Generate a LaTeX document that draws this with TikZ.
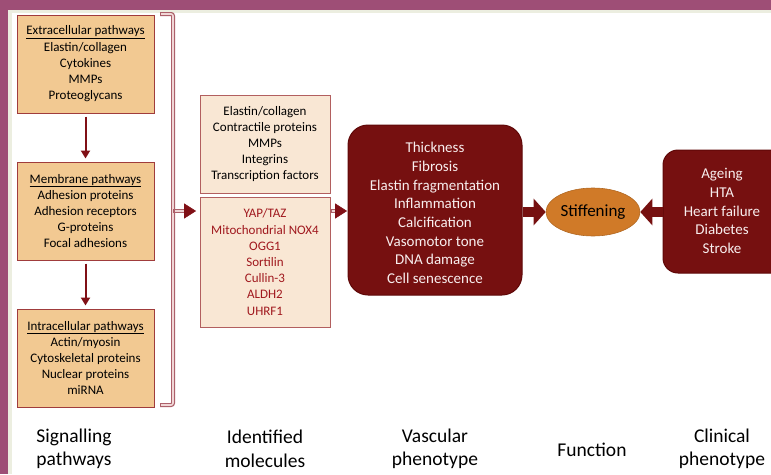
\documentclass[tikz,border=0pt]{standalone}
\usepackage{fontspec}
\setmainfont{Carlito}
\usetikzlibrary{arrows.meta,shapes.geometric,calc}
\definecolor{frame}{RGB}{158,78,118}
\definecolor{strip}{RGB}{236,238,224}
\definecolor{tanfill}{RGB}{242,201,146}
\definecolor{tanline}{RGB}{160,60,60}
\definecolor{molfill}{RGB}{249,231,212}
\definecolor{molline}{RGB}{178,95,95}
\definecolor{redtext}{RGB}{160,24,30}
\definecolor{darkbox}{RGB}{118,16,16}
\definecolor{darkline}{RGB}{95,8,8}
\definecolor{lighttext}{RGB}{248,238,238}
\definecolor{orangefill}{RGB}{208,122,40}
\definecolor{mauve}{RGB}{172,96,106}
\definecolor{pinkin}{RGB}{240,214,214}
\definecolor{arrowred}{RGB}{128,16,22}
\begin{document}
\begin{tikzpicture}[x=1pt,y=-1pt,
  tanbox/.style={draw=tanline, fill=tanfill, line width=1pt, minimum width=137pt, minimum height=98pt, align=center, inner sep=0pt, font=\fontsize{13}{16.2}\selectfont},
  molbox/.style={draw=molline, fill=molfill, line width=1pt, minimum width=130pt, align=center, inner sep=0pt, font=\fontsize{13}{16.2}\selectfont},
  darkbox/.style={draw=darkline, fill=darkbox, line width=1pt, inner sep=0pt},
  darktext/.style={align=center, inner sep=0pt, text=lighttext, font=\fontsize{15}{18.7}\selectfont},
  label/.style={align=center, font=\fontsize{19.5}{23.5}\selectfont},
  thinarrow/.style={draw=arrowred, line width=2pt, -{Triangle[length=8pt,width=9pt]}},
  dblouter/.style={draw=mauve, line width=4pt},
  dblinner/.style={draw=pinkin, line width=1.6pt},
  tiphead/.style={fill=arrowred, draw=arrowred, line width=0.6pt, line join=miter},
  thickarrow/.style={draw=darkbox, line width=10pt, -{Triangle[length=12pt,width=26pt]}}
]
\useasboundingbox (0,0) rectangle (771,474);
\clip (0,0) rectangle (771,474);
\fill[white] (0,0) rectangle (771,474);
\fill[strip] (8,10) rectangle (12,474);
\fill[strip] (8,10) rectangle (771,13);
\fill[frame] (0,0) rectangle (771,10);
\fill[frame] (0,0) rectangle (8,474);

% signalling pathways
\node[tanbox] (ext) at (85.5,64) {\underline{Extracellular pathways}\\Elastin/collagen\\Cytokines\\MMPs\\Proteoglycans};
\node[tanbox] (mem) at (85.5,211) {\underline{Membrane pathways}\\Adhesion proteins\\Adhesion receptors\\G-proteins\\Focal adhesions};
\node[tanbox] (intra) at (85.5,358) {\underline{Intracellular pathways}\\Actin/myosin\\Cytoskeletal proteins\\Nuclear proteins\\miRNA};
\draw[thinarrow, shorten <=3pt, shorten >=3pt] (ext) -- (mem);
\draw[thinarrow, shorten <=3pt, shorten >=3pt] (mem) -- (intra);

% bracket
\draw[draw=mauve, line width=4pt, rounded corners=2pt] (160,14) -- (173,14) -- (173,405) -- (160,405);
\draw[dblinner, rounded corners=2pt, shorten <=1pt, shorten >=1pt] (160,14) -- (173,14) -- (173,405) -- (160,405);
\coordinate (brk) at (173,211);

% identified molecules
\node[molbox, minimum height=98pt] (m1) at (265,144) {Elastin/collagen\\Contractile proteins\\MMPs\\Integrins\\Transcription factors};
\node[molbox, minimum height=130pt, text=redtext] (m2) at (265,262) {YAP/TAZ\\Mitochondrial NOX4\\OGG1\\Sortilin\\Cullin-3\\ALDH2\\UHRF1};

\coordinate (t1) at ($(brk -| m2.west)+(-4,0)$);
\draw[dblouter, shorten >=14pt] (brk) -- (brk -| m2.west);
\draw[dblinner, shorten >=14pt, shorten <=2pt] (brk) -- (brk -| m2.west);
\filldraw[tiphead] (t1) -- ++(-11,-7) -- ++(0,14) -- cycle;

% vascular phenotype
\node[darkbox, rounded corners=20pt, minimum width=174pt, minimum height=170pt] (vasc) at (435,210) {};
\node[darktext] (vasctxt) at (435,213) {Thickness\\Fibrosis\\Elastin fragmentation\\Inflammation\\Calcification\\Vasomotor tone\\DNA damage\\Cell senescence};

\coordinate (t2) at ($(brk -| vasc.west)+(-1,0)$);
\draw[dblouter, shorten >=11pt] (brk -| m2.east) -- (brk -| vasc.west);
\draw[dblinner, shorten >=11pt, shorten <=1pt] (brk -| m2.east) -- (brk -| vasc.west);
\filldraw[tiphead] (t2) -- ++(-11,-7) -- ++(0,14) -- cycle;

% function
\node[ellipse, draw=orangefill!85!black, line width=0.6pt, fill=orangefill, minimum width=94pt, minimum height=48pt, inner sep=0pt, font=\fontsize{17}{20}\selectfont] (ell) at (593,212) {Stiffening};

% clinical phenotype
\node[darkbox, rounded corners=15pt, minimum width=137pt, minimum height=123pt] (clin) at (731.5,211.5) {};
\node[darktext] (clintxt) at (722,211) {Ageing\\HTA\\Heart failure\\Diabetes\\Stroke};

\draw[thickarrow] (ell -| vasc.east) -- (ell.west);
\draw[thickarrow] (ell -| clin.west) -- (ell.east);

% column labels
\node[label] (l1) at (74,449) {Signalling\\pathways};
\node[label] (l2) at (265,449) {Identified\\molecules};
\node[label] (l3) at (435,449) {Vascular\\phenotype};
\node[label] (l4) at (592,450) {Function};
\node[label] (l5) at (722,449) {Clinical\\phenotype};
\end{tikzpicture}
\end{document}
